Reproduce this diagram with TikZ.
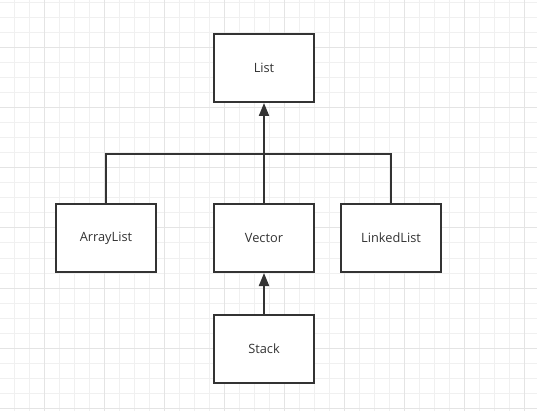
\documentclass[tikz,border=0pt]{standalone}
\usepackage{fontspec}
\setmainfont{Open Sans}
\usepackage{tikz}
\usetikzlibrary{positioning,arrows.meta}
\definecolor{linegray}{HTML}{333333}
\definecolor{minorgrid}{HTML}{F0F0F0}
\definecolor{majorgrid}{HTML}{E4E4E4}

\begin{document}
\begin{tikzpicture}[
        x=1pt, y=-1pt,
        class/.style={rectangle, draw=linegray, line width=2pt, fill=white, minimum width=100pt, minimum height=68pt, inner sep=0pt, font=\fontsize{12.8}{15}\selectfont, text=linegray},
        connection/.style={draw=linegray, line width=2pt},
        inherit/.style={connection, -{Triangle[length=13pt,width=10pt]}}
    ]

    % Background grid
    \useasboundingbox (0,0) rectangle (537,411);
    \fill[white] (0,0) rectangle (537,411);
    \foreach \x in {-1,14,...,536} {
        \draw[minorgrid, line width=1pt] (\x,0) -- (\x,411);
    }
    \foreach \y in {3,18,...,410} {
        \draw[minorgrid, line width=1pt] (0,\y) -- (537,\y);
    }
    \foreach \x in {44,104,...,524} {
        \draw[majorgrid, line width=1pt] (\x,0) -- (\x,411);
    }
    \foreach \y in {48,108,...,408} {
        \draw[majorgrid, line width=1pt] (0,\y) -- (537,\y);
    }

    % Classes
    \node[class] (List) at (264, 68) {List};
    \node[class] (ArrayList) at (106, 238) {ArrayList};
    \node[class] (Vector) at (264, 238) {Vector};
    \node[class] (LinkedList) at (391, 238) {LinkedList};
    \node[class] (Stack) at (264, 349) {Stack};

    % Connections
    \coordinate (hub) at (264, 154);
    \draw[connection] (ArrayList.north) |- (hub) -| (LinkedList.north);
    \draw[inherit] (Vector.north) -- (List.south);
    \draw[inherit] (Stack.north) -- (Vector.south);

\end{tikzpicture}
\end{document}
